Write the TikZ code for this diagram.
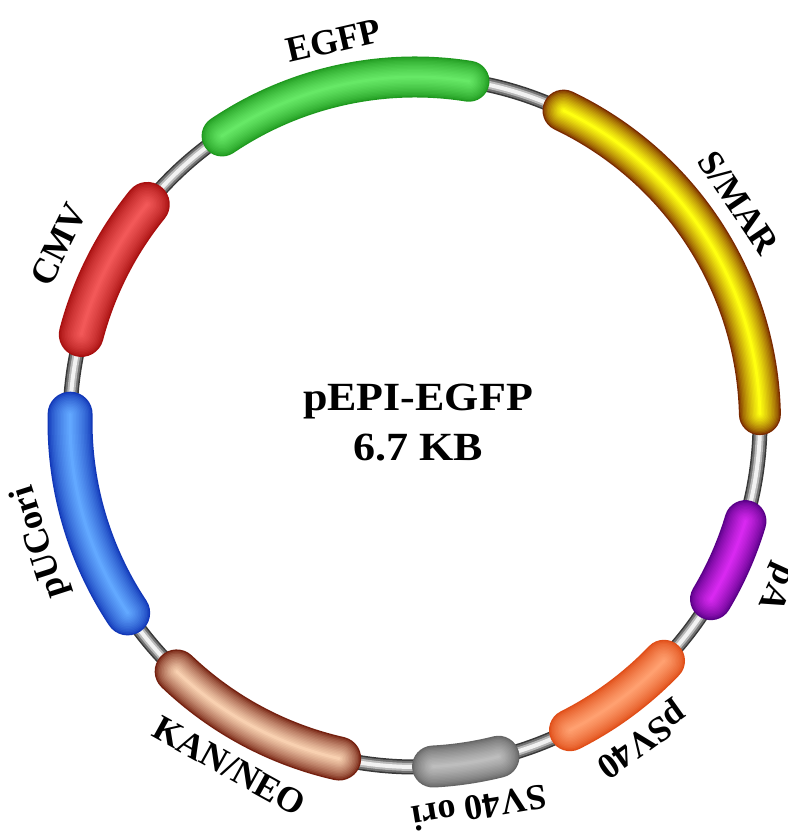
\documentclass[tikz,border=0pt]{standalone}
\usepackage{fontspec}
\setmainfont{Liberation Serif}
\usepackage{graphicx}
\definecolor{gEdge}{HTML}{1F9A1F}
\definecolor{gCen}{HTML}{66E866}
\definecolor{yEdge}{HTML}{7A2A00}
\definecolor{yCen}{HTML}{FFFF10}
\definecolor{pEdge}{HTML}{5A0088}
\definecolor{pCen}{HTML}{D828F0}
\definecolor{oEdge}{HTML}{E04E18}
\definecolor{oCen}{HTML}{FFA070}
\definecolor{sEdge}{HTML}{666666}
\definecolor{sCen}{HTML}{BDBDBD}
\definecolor{kEdge}{HTML}{74200F}
\definecolor{kCen}{HTML}{F8D0B0}
\definecolor{bEdge}{HTML}{1238B8}
\definecolor{bCen}{HTML}{62A8FF}
\definecolor{rEdge}{HTML}{A81010}
\definecolor{rCen}{HTML}{F25858}
\newcommand\plasmidtube[5]{%
  \foreach \k in {0,...,14}{%
    \pgfmathsetmacro\tw{#5*(1-\k/15)}%
    \pgfmathtruncatemacro\tp{100*(\k/14)^0.7}%
    \draw[line width=\tw pt, line cap=round, color=#4!\tp!#3]
      ([shift={(#1:345pt)}]C) arc[start angle=#1, end angle=#2, radius=345pt];
  }%
}
\begin{document}
\begin{tikzpicture}[x=1pt,y=1pt,
  lab/.style={font=\fontsize{36}{40}\selectfont\bfseries, inner sep=0pt},
  title/.style={font=\fontsize{40}{50}\selectfont\bfseries, align=center, inner sep=0pt},
  ring/.style={line width=#1, line cap=round}]
\fill[white] (0,0) rectangle (787,834);
\useasboundingbox (0,0) rectangle (787,834);
\coordinate (C) at (415,412);
% backbone
\draw[ring=15pt, color=black!78] (C) circle[radius=345pt];
\draw[ring=12pt, color=black!55] (C) circle[radius=345pt];
\draw[ring=8pt, color=black!28] (C) circle[radius=345pt];
\draw[ring=4pt, color=black!5] (C) circle[radius=345pt];
% features
\plasmidtube{124}{81}{gEdge}{gCen}{41}
\plasmidtube{64.5}{1.3}{yEdge}{yCen}{42}
\plasmidtube{-16.7}{-30.9}{pEdge}{pCen}{42}
\plasmidtube{-43.8}{-63.3}{oEdge}{oCen}{42}
\plasmidtube{-76}{-87}{sEdge}{sCen}{42}
\plasmidtube{226.3}{257.3}{kEdge}{kCen}{44}
\plasmidtube{178.7}{213.6}{bEdge}{bCen}{45}
\plasmidtube{140.9}{165.3}{rEdge}{rCen}{45}
% labels
\node[lab, rotate=13] (egfp) at ([shift={(102:390pt)}]C) {EGFP};
\node[lab, rotate=-56] (smar) at ([shift={(34.1:391pt)}]C) {S/MAR};
\node[lab, rotate=-114.6] (pa) at ([shift={(-24.6:397pt)}]C) {pA};
\node[lab, rotate=-144.5] (psv) at ([shift={(-54.5:389pt)}]C) {pSV40};
\node[lab, rotate=-170.5] (sv) at ([shift={(-80.5:391pt)}]C) {SV40 ori};
\node[lab, rotate=-29] (kan) at ([shift={(241.7:391pt)}]C) {KAN/NEO};
\node[lab, rotate=107.8] (puc) at ([shift={(197.8:393pt)}]C) {pUCori};
\node[lab, rotate=63.5] (cmv) at ([shift={(153.5:398pt)}]C) {CMV};
\node[title] (name) at (418,411) {\scalebox{1.1}[1]{pEPI-EGFP}\\\scalebox{1.1}[1]{6.7 KB}};
\end{tikzpicture}
\end{document}
